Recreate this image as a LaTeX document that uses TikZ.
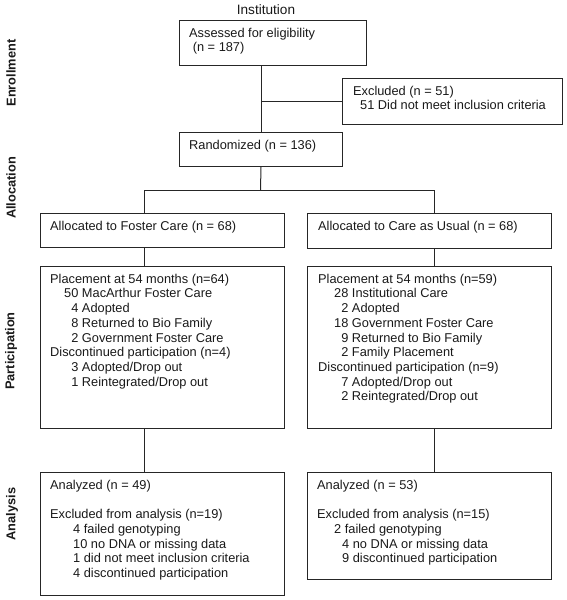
\documentclass[tikz,border=0pt]{standalone}
\usepackage{fontspec}
\setmainfont{Liberation Sans}
\newcommand\fr{\rule{0pt}{10pt}}
\newcommand\dg{\phantom{0}}
\begin{document}
\begin{tikzpicture}[x=1pt,y=-1pt,
  box/.style={draw=black!85, line width=1pt, rectangle, inner sep=0pt, anchor=north west},
  txt/.style={anchor=north west, inner sep=0pt, align=left, font=\fontsize{12.8}{14.7}\selectfont, text=black!90},
  side/.style={rotate=90, inner sep=0pt, font=\fontsize{12.8}{14.7}\selectfont\bfseries, text=black!90},
  conn/.style={draw=black!85, line width=1pt}]
\useasboundingbox (0,0) rectangle (567,600);

% boxes
\node[box, minimum width=187pt, minimum height=45pt] (A) at (179,20) {};
\node[box, minimum width=220pt, minimum height=46pt] (E) at (342,78) {};
\node[box, minimum width=163pt, minimum height=34pt] (R) at (179,132) {};
\node[box, minimum width=244pt, minimum height=34pt] (FC) at (40,213) {};
\node[box, minimum width=244pt, minimum height=35pt] (CAU) at (307,213) {};
\node[box, minimum width=244pt, minimum height=162pt] (PL) at (40,266) {};
\node[box, minimum width=244pt, minimum height=162pt] (PR) at (307,266) {};
\node[box, minimum width=244pt, minimum height=123pt] (AL) at (40,472) {};
\node[box, minimum width=244pt, minimum height=107pt] (AR) at (307,472) {};

% connectors
\coordinate (split) at (260.5,190);
\coordinate (bl) at (144,190);
\coordinate (br) at (434,190);
\draw[conn] (A.south -| R.north) -- (R.north);
\draw[conn] (R.north |- E.west) -- (E.west);
\draw[conn] (R.south) -- (split);
\draw[conn] (bl) -- (br);
\draw[conn] (bl) -- (bl |- FC.north);
\draw[conn] (br) -- (br |- CAU.north);
\draw[conn] (bl |- FC.south) -- (bl |- PL.north);
\draw[conn] (br |- CAU.south) -- (br |- PR.north);
\draw[conn] (bl |- PL.south) -- (bl |- AL.north);
\draw[conn] (br |- PR.south) -- (br |- AR.north);

% texts
\node[txt, anchor=center, font=\fontsize{13.6}{15}\selectfont] (inst) at (266,10) {Institution};
\node[txt] (At) at (189,27) {\fr Assessed for eligibility\\\hspace*{3.6pt}(n = 187)};
\node[txt] (Et) at (353,85) {\fr Excluded (n = 51)\\\hspace*{7pt}51 Did not meet inclusion criteria};
\node[txt] (Rt) at (189,139) {\fr Randomized (n = 136)};
\node[txt] (FCt) at (50,220) {\fr Allocated to Foster Care (n = 68)};
\node[txt] (CAUt) at (318,220) {\fr Allocated to Care as Usual (n = 68)};
\node[txt] (PLt) at (50,273) {\fr Placement at 54 months (n=64)\\
\hspace*{14pt}50 MacArthur Foster Care\\
\hspace*{14pt}\dg4 Adopted\\
\hspace*{14pt}\dg8 Returned to Bio Family\\
\hspace*{14pt}\dg2 Government Foster Care\\
Discontinued participation (n=4)\\
\hspace*{14pt}\dg3 Adopted/Drop out\\
\hspace*{14pt}\dg1 Reintegrated/Drop out};
\node[txt] (PRt) at (318,273) {\fr Placement at 54 months (n=59)\\
\hspace*{16pt}28 Institutional Care\\
\hspace*{16pt}\dg2 Adopted\\
\hspace*{16pt}18 Government Foster Care\\
\hspace*{16pt}\dg9 Returned to Bio Family\\
\hspace*{16pt}\dg2 Family Placement\\
Discontinued participation (n=9)\\
\hspace*{16pt}\dg7 Adopted/Drop out\\
\hspace*{16pt}\dg2 Reintegrated/Drop out};
\node[txt] (ALt) at (50,479) {\fr Analyzed (n = 49)\\[14.7pt]
Excluded from analysis (n=19)\\
\hspace*{23pt}4 failed genotyping\\
\hspace*{23pt}10 no DNA or missing data\\
\hspace*{23pt}1 did not meet inclusion criteria\\
\hspace*{23pt}4 discontinued participation};
\node[txt] (ARt) at (317,479) {\fr Analyzed (n = 53)\\[14.7pt]
Excluded from analysis (n=15)\\
\hspace*{17pt}2 failed genotyping\\
\hspace*{25pt}4 no DNA or missing data\\
\hspace*{25pt}9 discontinued participation};

% side labels
\node[side] (enr) at (11,73) {Enrollment};
\node[side] (all) at (11,188) {Allocation};
\node[side] (par) at (11,351) {Participation};
\node[side] (ana) at (12,514) {Analysis};
\end{tikzpicture}
\end{document}
